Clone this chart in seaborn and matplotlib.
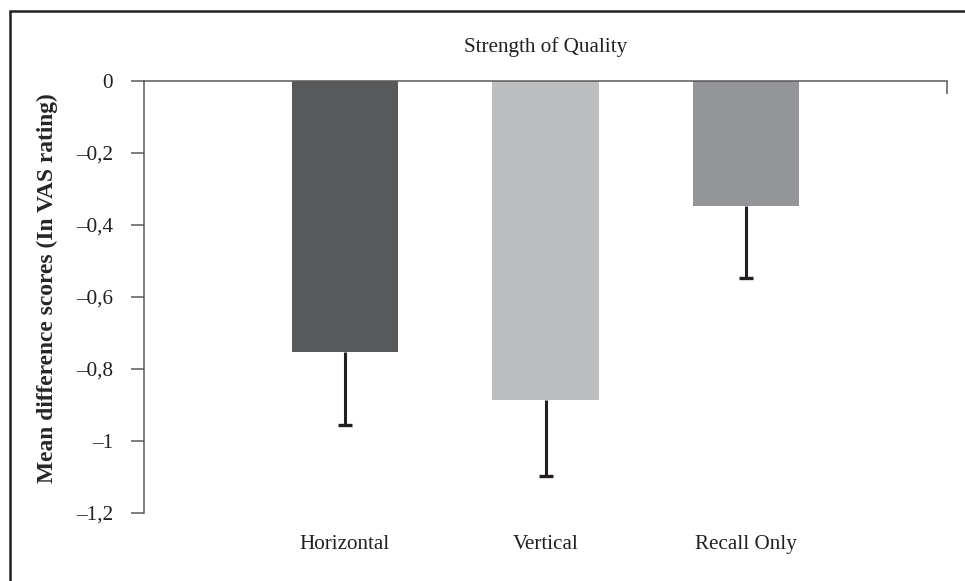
import matplotlib
matplotlib.use("Agg")
import matplotlib.pyplot as plt
import matplotlib.patches as mpatches
import seaborn as sns
import pandas as pd

# data
conditions = ["Horizontal", "Vertical", "Recall Only"]
mean_diff = [-0.752, -0.886, -0.347]
err_down = [0.203, 0.211, 0.199]
bar_colors = ["#58595b", "#bcbec0", "#939598"]
ytick_vals = [0, -0.2, -0.4, -0.6, -0.8, -1.0, -1.2]
ytick_labels = ["0", "–0,2", "–0,4", "–0,6", "–0,8", "–1", "–1,2"]

df = pd.DataFrame({"condition": conditions, "mean": mean_diff})
df["low"] = df["mean"] - pd.Series(err_down)

sns.set_style("white")
plt.rcParams["font.family"] = ["Liberation Serif", "DejaVu Serif"]

fig = plt.figure(figsize=(9.65, 5.81), dpi=100)
ax = fig.add_axes([144 / 965, 1 - 513 / 581, 803 / 965, 432 / 581])

sns.barplot(data=df, x="condition", y="mean", hue="condition",
            palette=bar_colors, width=0.53, errorbar=None,
            legend=False, ax=ax, saturation=1, linewidth=0)

# one-sided error bars (downwards only, cap at the lower end)
xpos = range(len(conditions))
ax.errorbar(xpos, mean_diff, yerr=[err_down, [0] * len(err_down)],
            fmt="none", ecolor="#231f20", elinewidth=2.2, capsize=0,
            zorder=3)
ax.plot(xpos, df["low"], ls="none", marker="_", ms=9.4, mew=2.4,
        color="#231f20", zorder=3)

ax.set_xlim(-1, 3)
ax.set_ylim(-1.2, 0)
ax.set_yticks(ytick_vals)
ax.set_yticklabels(ytick_labels)
ax.set_xlabel("")
ax.set_ylabel("Mean difference scores (In VAS rating)",
              fontsize=16.9, fontweight="bold")
ax.yaxis.set_label_coords(-0.107, 0.52)

axis_color = "#5a5a5a"
for side in ["right", "bottom"]:
    ax.spines[side].set_visible(False)
for side in ["left", "top"]:
    ax.spines[side].set_visible(True)
    ax.spines[side].set_color(axis_color)
    ax.spines[side].set_linewidth(1.1)

ax.tick_params(axis="y", which="major", left=True, direction="out",
               length=9.4, width=1.1, color=axis_color, pad=13,
               labelsize=15.2, labelcolor="#231f20")
ax.tick_params(axis="x", which="major", bottom=True, length=0, pad=16,
               labelsize=15.2, labelcolor="#231f20")
# category-axis tick at the right end of the zero line
ax.set_xticks([3], minor=True)
ax.tick_params(axis="x", which="minor", top=True, bottom=False,
               direction="in", length=9.4, width=1.1, color=axis_color)

ax.text(0.5, 1.079, "Strength of Quality", transform=ax.transAxes,
        ha="center", va="center", fontsize=15.2, color="#231f20")

# frame around the chart (cropped on the right and bottom)
fig.patches.append(mpatches.Rectangle(
    (9.5 / 965, -0.1), 2, 1.1 - 10.5 / 581, transform=fig.transFigure,
    fill=False, edgecolor="#231f20", linewidth=1.8))

fig.savefig("out.png", dpi=100)
